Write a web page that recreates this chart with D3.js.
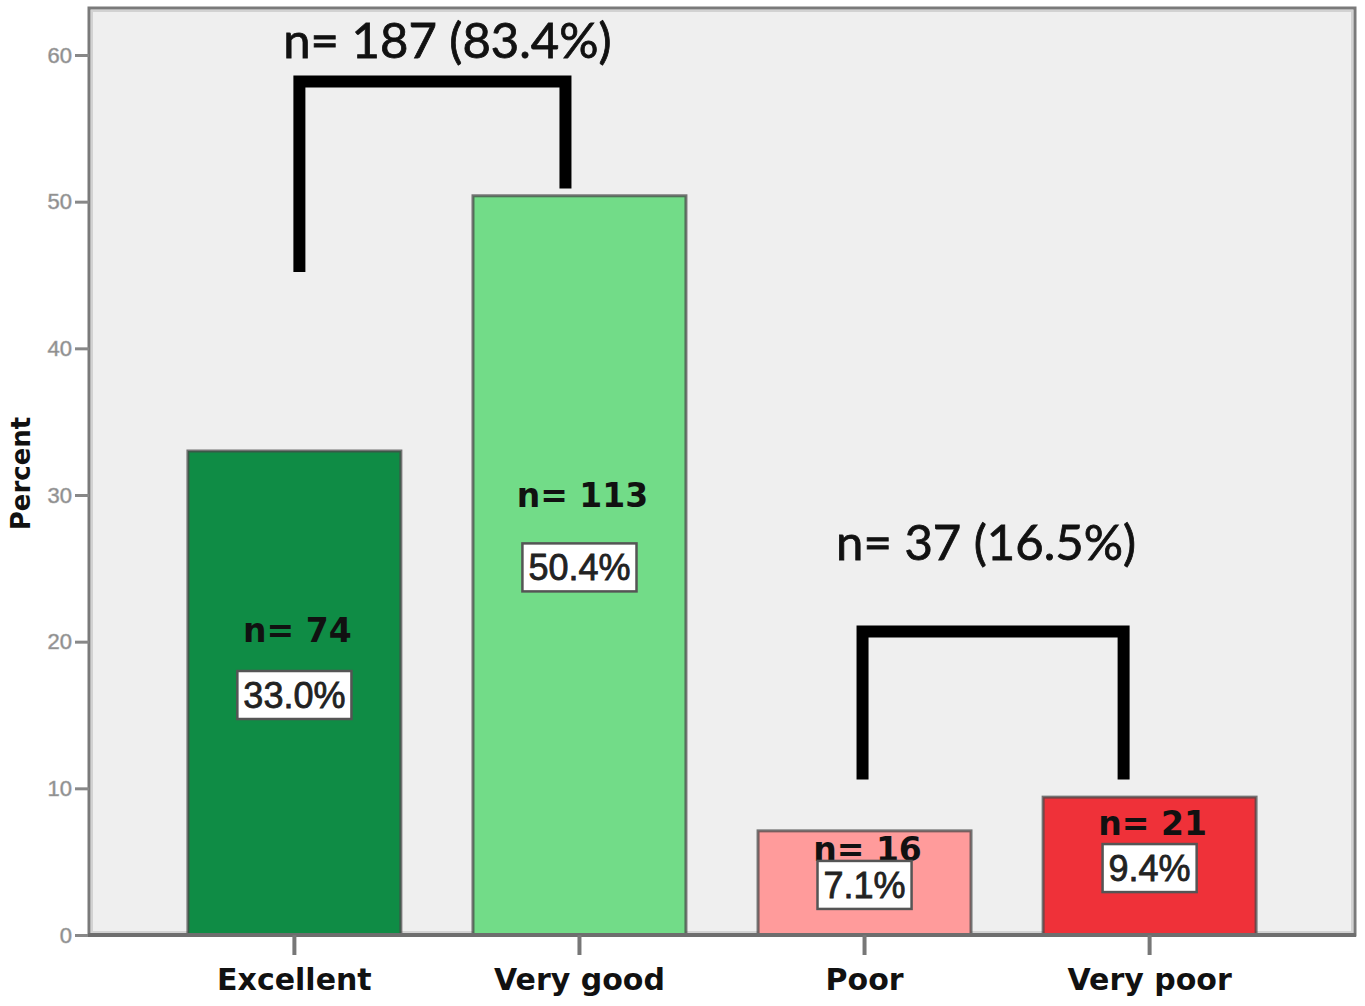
<!DOCTYPE html>
<html>
<head>
<meta charset="utf-8">
<script src="https://cdn.jsdelivr.net/npm/d3@7"></script>
<style>
  html, body { margin: 0; padding: 0; background: #fff; }
  svg { display: block; }
</style>
</head>
<body>
<svg id="chart"></svg>
<script>
// data
const categories = ["Excellent", "Very good", "Poor", "Very poor"];
const percents = [33.0, 50.4, 7.1, 9.4];
const counts = [74, 113, 16, 21];
const barColors = ["#0f8c45", "#72dc88", "#ff9b9b", "#ef3139"];
const yTicks = [0, 10, 20, 30, 40, 50, 60];

// grouped totals shown above brackets
const groupLabels = ["n= 187 (83.4%)", "n= 37 (16.5%)"];
const groupFrom = ["Excellent", "Poor"];
const groupTo = ["Very good", "Very poor"];
// bracket geometry in percent units: top bar, left leg end, right leg end, label baseline
const groupTop = [58.2, 20.7];
const groupLeftEnd = [45.2, 10.6];
const groupRightEnd = [50.9, 10.6];
const groupLabelAt = [59.8, 25.6];

// layout tweaks (px)
const nLabelLift = [53, 60, 24, 33];
const legShiftL = [5, -2];
const legShiftR = [-14, -26];
const labelShift = [15, -7];

const width = 1365, height = 1006;
const svg = d3.select("#chart").attr("width", width).attr("height", height);

const frame = { left: 89, right: 1355, top: 8, bottom: 935 };

const x = d3.scaleBand()
    .domain(categories)
    .range([frame.left, frame.right])
    .paddingInner(0.253)
    .paddingOuter(0.347);

const y = d3.scaleLinear()
    .domain([0, 60])
    .range([frame.bottom, 55]);

// PLOT BACKGROUND
svg.append("rect")
    .attr("x", frame.left).attr("y", frame.top)
    .attr("width", frame.right - frame.left)
    .attr("height", frame.bottom - frame.top)
    .attr("fill", "#efefef")
    .attr("stroke", "#7a7a7a")
    .attr("stroke-width", 3);
svg.append("rect")
    .attr("x", frame.left + 3).attr("y", frame.top + 3)
    .attr("width", frame.right - frame.left - 6)
    .attr("height", frame.bottom - frame.top - 6)
    .attr("fill", "none")
    .attr("stroke", "#d2d2d2")
    .attr("stroke-width", 2);

// Y AXIS
const yAxis = svg.append("g")
    .attr("transform", `translate(${frame.left},0)`)
    .call(d3.axisLeft(y).tickValues(yTicks).tickSize(14).tickPadding(3).tickFormat(d3.format("d")));
yAxis.select(".domain").remove();
yAxis.selectAll(".tick line").attr("stroke", "#888").attr("stroke-width", 3);
yAxis.selectAll(".tick text")
    .attr("fill", "#888")
    .attr("stroke", "#aaa")
    .attr("stroke-width", 0.6)
    .style("font-family", "'Liberation Sans', Arial, sans-serif")
    .style("font-size", "22px");

svg.append("text")
    .attr("transform", `translate(30,${(frame.top + frame.bottom) / 2 + 2}) rotate(-90)`)
    .attr("text-anchor", "middle")
    .style("font-family", "'DejaVu Sans', sans-serif")
    .style("font-weight", "bold")
    .style("font-size", "26px")
    .attr("fill", "#111")
    .text("Percent");

// BARS
const bars = categories.map((c, i) => ({ cat: c, pct: percents[i], n: counts[i], color: barColors[i], lift: nLabelLift[i] }));

svg.selectAll(".bar")
    .data(bars)
    .enter().append("rect")
    .attr("class", "bar")
    .attr("x", d => x(d.cat))
    .attr("y", d => y(d.pct))
    .attr("width", x.bandwidth())
    .attr("height", d => y(0) - y(d.pct))
    .attr("fill", d => d.color)
    .attr("stroke", "#4a4a4a")
    .attr("stroke-opacity", 0.75)
    .attr("stroke-width", 3);

// X AXIS
svg.append("line")
    .attr("x1", frame.left - 1).attr("x2", frame.right + 1)
    .attr("y1", frame.bottom).attr("y2", frame.bottom)
    .attr("stroke", "#6e6e6e").attr("stroke-width", 4);

const xAxis = svg.append("g")
    .attr("transform", `translate(0,${frame.bottom})`)
    .call(d3.axisBottom(x).tickSize(20).tickPadding(8));
xAxis.select(".domain").remove();
xAxis.selectAll(".tick line").attr("stroke", "#777").attr("stroke-width", 4);
xAxis.selectAll(".tick text")
    .attr("fill", "#111")
    .attr("dy", "0.9em")
    .style("font-family", "'DejaVu Sans', sans-serif")
    .style("font-weight", "bold")
    .style("font-size", "30px");

// BAR LABELS
const mid = d => (y(d.pct) + y(0)) / 2 + 2;

svg.selectAll(".nlabel")
    .data(bars)
    .enter().append("text")
    .attr("class", "nlabel")
    .attr("x", d => x(d.cat) + x.bandwidth() / 2 + 3)
    .attr("y", d => mid(d) - d.lift)
    .attr("text-anchor", "middle")
    .style("font-family", "'DejaVu Sans', sans-serif")
    .style("font-weight", "bold")
    .style("font-size", "33px")
    .attr("fill", "#111")
    .text(d => `n= ${d.n}`);

const pctGroups = svg.selectAll(".pct")
    .data(bars)
    .enter().append("g")
    .attr("class", "pct")
    .attr("transform", d => `translate(${x(d.cat) + x.bandwidth() / 2},${mid(d)})`);

pctGroups.append("text")
    .attr("text-anchor", "middle")
    .attr("dy", "0.36em")
    .style("font-family", "'Liberation Sans', Arial, sans-serif")
    .style("font-size", "36px")
    .attr("fill", "#222")
    .attr("stroke", "#222")
    .attr("stroke-width", 0.8)
    .text(d => `${d.pct.toFixed(1)}%`);

pctGroups.each(function () {
    const g = d3.select(this);
    const bb = g.select("text").node().getBBox();
    g.insert("rect", "text")
        .attr("x", bb.x - 6)
        .attr("y", -24)
        .attr("width", bb.width + 12)
        .attr("height", 48)
        .attr("fill", "#fff")
        .attr("stroke", "#555")
        .attr("stroke-width", 2.5);
});

// BRACKETS
const groups = groupLabels.map((t, i) => ({
    label: t,
    x1: x(groupFrom[i]) + x.bandwidth() / 2 + legShiftL[i],
    x2: x(groupTo[i]) + x.bandwidth() / 2 + legShiftR[i],
    shift: labelShift[i],
    top: groupTop[i], l: groupLeftEnd[i], r: groupRightEnd[i], at: groupLabelAt[i]
}));

svg.selectAll(".bracket")
    .data(groups)
    .enter().append("path")
    .attr("class", "bracket")
    .attr("fill", "none")
    .attr("stroke", "#000")
    .attr("stroke-width", 12)
    .attr("stroke-linejoin", "miter")
    .attr("d", d => `M${d.x1},${y(d.l)}V${y(d.top)}H${d.x2}V${y(d.r)}`);

svg.selectAll(".glabel")
    .data(groups)
    .enter().append("text")
    .attr("class", "glabel")
    .attr("x", d => (d.x1 + d.x2) / 2 + d.shift)
    .attr("y", d => y(d.at))
    .attr("text-anchor", "middle")
    .style("font-family", "Lato, 'Open Sans', sans-serif")
    .style("font-size", "49px")
    .attr("fill", "#111")
    .attr("stroke", "#111")
    .attr("stroke-width", 0.8)
    .text(d => d.label);
</script>
</body>
</html>
